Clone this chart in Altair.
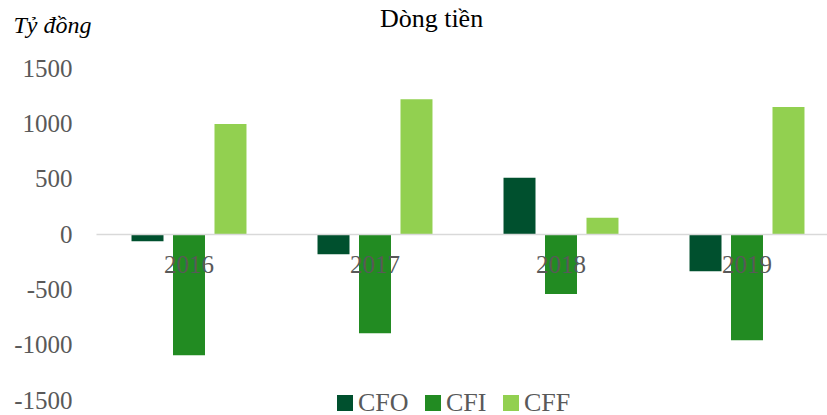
import altair as alt
import pandas as pd

years = ["2016", "2017", "2018", "2019"]
series = ["CFO", "CFI", "CFF"]
cfo = [-65, -184, 509, -337]
cfi = [-1096, -897, -542, -960]
cff = [995, 1217, 147, 1147]
colors = ["#00502E", "#228B22", "#92D050"]
y_ticks = [-1500, -1000, -500, 0, 500, 1000, 1500]

rows = []
for name, vals in zip(series, [cfo, cfi, cff]):
    for yr, v in zip(years, vals):
        rows.append({"year": yr, "series": name, "value": v})
df = pd.DataFrame(rows)

FONT = "Liberation Serif"

chart = alt.Chart(df).mark_bar().encode(
    x=alt.X(
        "year:N",
        sort=years,
        scale=alt.Scale(range=[0, 744], paddingInner=0, paddingOuter=0),
        axis=alt.Axis(
            title=None, labelAngle=0, ticks=False, domain=True,
            domainColor="#D9D9D9", domainWidth=1.5, offset=-166,
            labelFont=FONT, labelFontSize=25, labelColor="#595959",
            labelPadding=18, zindex=1, grid=False,
        ),
    ),
    xOffset=alt.XOffset(
        "series:N", sort=series,
        scale=alt.Scale(paddingInner=0.229, paddingOuter=0.856),
    ),
    y=alt.Y(
        "value:Q",
        scale=alt.Scale(domain=[-1500, 1500], nice=False, zero=True),
        axis=alt.Axis(
            values=y_ticks, ticks=False, domain=False, grid=False,
            labelExpr="'' + datum.value",
            labelFont=FONT, labelFontSize=25, labelColor="#595959",
            labelPadding=24,
            title="Tỷ đồng", titleFont=FONT, titleFontStyle="italic",
            titleFontWeight="normal", titleFontSize=24, titleColor="black",
            titleAngle=0, titleAlign="left", titleBaseline="alphabetic",
            titleX=-83, titleY=-36,
        ),
    ),
    color=alt.Color(
        "series:N", sort=series,
        scale=alt.Scale(domain=series, range=colors),
        legend=alt.Legend(
            title=None, orient="none", direction="horizontal",
            legendX=236, legendY=322, symbolType="square", symbolSize=256,
            symbolStrokeWidth=0, labelFont=FONT, labelFontSize=26,
            labelColor="#595959", labelOffset=0, columnPadding=11, padding=0,
        ),
    ),
).properties(
    width=731,
    height=332,
    background="white",
    title=alt.TitleParams(
        text="Dòng tiền", anchor="middle", font=FONT, fontSize=26,
        fontWeight="normal", color="black", dx=-30,
        baseline="alphabetic", offset=0, dy=40,
    ),
    autosize=alt.AutoSizeParams(type="none"),
    padding={"left": 96, "top": 68, "right": 0, "bottom": 15},
).configure_view(stroke=None)

chart.save("out.html", embed_options={"renderer": "svg", "actions": False})
